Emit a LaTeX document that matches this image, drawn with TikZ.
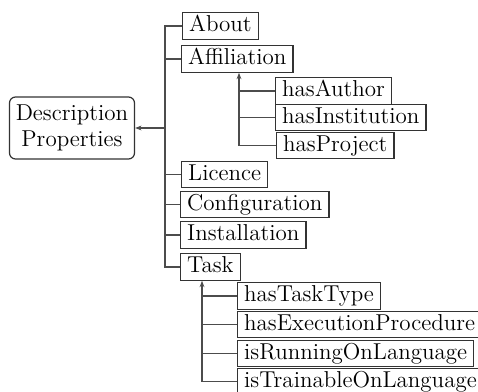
\documentclass[tikz,border=0pt]{standalone}
\usetikzlibrary{arrows.meta}
\begin{document}
\begin{tikzpicture}[x=0.5pt,y=-0.5pt,
  every node/.style={font=\fontsize{11.5}{12.8}\selectfont},
  prop/.style={draw=black!80,line width=0.6pt,anchor=west,inner xsep=3.3pt,inner ysep=1.3pt,text height=8.2pt,text depth=2.4pt},
  root/.style={draw=black!80,line width=0.6pt,rounded corners=3pt,align=center,minimum width=62.5pt,minimum height=31pt,inner xsep=2pt},
  conn/.style={draw=black!70,line width=0.75pt},
  arr/.style={conn,-{Stealth[length=3.2pt,width=2.4pt]}}]
\useasboundingbox (0,0) rectangle (478,392);
\node[root] (DP) at (72,128) {Description\\Properties};
\node[prop] (About) at (182,26) {About};
\node[prop] (Affiliation) at (181,59) {Affiliation};
\node[prop] (hasAuthor) at (275,91) {hasAuthor};
\node[prop] (hasInstitution) at (275,117.5) {hasInstitution};
\node[prop] (hasProject) at (276,145.5) {hasProject};
\node[prop] (Licence) at (181,174.5) {Licence};
\node[prop] (Configuration) at (180,204.5) {Configuration};
\node[prop] (Installation) at (180,235) {Installation};
\node[prop] (Task) at (180,267) {Task};
\node[prop] (hasTaskType) at (237,296) {hasTaskType};
\node[prop] (hasExecutionProcedure) at (237,324.5) {hasExecutionProcedure};
\node[prop] (isRunningOnLanguage) at (237,353.5) {isRunningOnLanguage};
\node[prop] (isTrainableOnLanguage) at (237,381.5) {isTrainableOnLanguage};
% main trunk
\coordinate (T) at (165,128);
\draw[arr] (T) -- (DP.east);
\draw[conn] (About.west) -| (T);
\draw[conn] (Task.west) -| (T);
\foreach \n in {Affiliation,Licence,Configuration,Installation}
  \draw[conn] (\n.west) -- (\n.west -| T);
% affiliation sub-trunk
\coordinate (A) at (239,145.5);
\draw[arr] (hasProject.west) -| (Affiliation.south -| A);
\foreach \n in {hasAuthor,hasInstitution}
  \draw[conn] (\n.west) -- (\n.west -| A);
% task sub-trunk
\coordinate (K) at (202,381.5);
\draw[arr] (isTrainableOnLanguage.west) -| (Task.south -| K);
\foreach \n in {hasTaskType,hasExecutionProcedure,isRunningOnLanguage}
  \draw[conn] (\n.west) -- (\n.west -| K);
\end{tikzpicture}
\end{document}
